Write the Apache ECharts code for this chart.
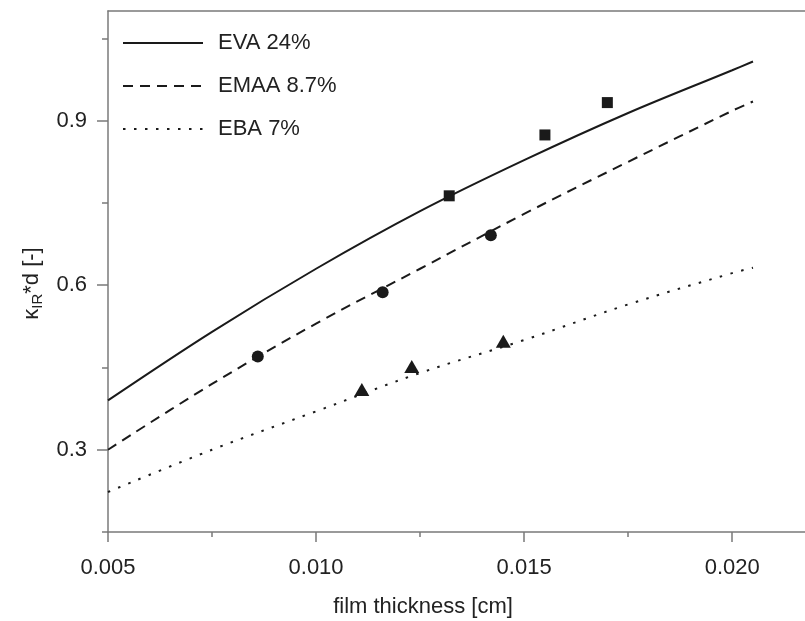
<!DOCTYPE html>
<html>
<head>
<meta charset="utf-8">
<script src="https://cdn.jsdelivr.net/npm/echarts@6/dist/echarts.min.js"></script>
<style>
html,body{margin:0;padding:0;background:#fff;}
#chart{width:805px;height:621px;}
</style>
</head>
<body>
<div id="chart"></div>
<script>
// ---- data ----
const curveX = [0.005, 0.0075, 0.010, 0.0125, 0.015, 0.0175, 0.020, 0.0205];
const evaCurve  = [0.390, 0.515, 0.630, 0.735, 0.828, 0.914, 0.992, 1.008];
const emaaCurve = [0.300, 0.420, 0.530, 0.630, 0.730, 0.825, 0.918, 0.935];
const ebaCurve  = [0.223, 0.300, 0.370, 0.440, 0.500, 0.565, 0.622, 0.632];

const evaPointsX  = [0.0132, 0.0155, 0.0170];
const evaPointsY  = [0.763, 0.874, 0.933];
const emaaPointsX = [0.0086, 0.0116, 0.0142];
const emaaPointsY = [0.470, 0.587, 0.691];
const ebaPointsX  = [0.0111, 0.0123, 0.0145];
const ebaPointsY  = [0.410, 0.452, 0.498];

const seriesNames = ['EVA 24%', 'EMAA 8.7%', 'EBA 7%'];
const xTicks = [0.005, 0.010, 0.015, 0.020];
const xMinorTicks = [0.0075, 0.0125, 0.0175];
const yTicks = [0.3, 0.6, 0.9];
const yMinorTicks = [0.15, 0.45, 0.75, 1.05];
const xTitle = 'film thickness [cm]';

// ---- build ----
const zip = (xs, ys) => xs.map((x, i) => [x, ys[i]]);
const FONT = "'Liberation Sans', Arial, Helvetica, sans-serif";
const AXIS_COLOR = '#7a7a7a';
const INK = '#1a1a1a';
const TXT = '#222';
const X_MIN = 0.005, X_MAX = 0.02175, Y_MIN = 0.15, Y_MAX = 1.1;

const chart = echarts.init(document.getElementById('chart'), null, {renderer: 'canvas'});

const lineTypes = ['solid', [10, 7], [2.5, 8.5]];
const curves = [evaCurve, emaaCurve, ebaCurve];
const points = [[evaPointsX, evaPointsY, 'rect', [11, 11]],
                [emaaPointsX, emaaPointsY, 'circle', 12],
                [ebaPointsX, ebaPointsY, 'triangle', [15, 13]]];

const series = [];
curves.forEach((c, i) => {
  series.push({
    name: seriesNames[i], type: 'line', xAxisIndex: 0, yAxisIndex: 0,
    data: zip(curveX, c), smooth: 0.35, symbol: 'none', silent: true,
    lineStyle: {color: INK, width: 2, type: lineTypes[i]},
    itemStyle: {color: INK}, z: 3
  });
});
points.forEach((p, i) => {
  series.push({
    name: seriesNames[i] + ' data', type: 'scatter', xAxisIndex: 0, yAxisIndex: 0,
    data: zip(p[0], p[1]), symbol: p[2], symbolSize: p[3],
    itemStyle: {color: INK, opacity: 1}, z: 4
  });
});

const baseAxisLine = {show: true, onZero: false, lineStyle: {color: AXIS_COLOR, width: 1.5}};

chart.setOption({
  animation: false,
  backgroundColor: '#fff',
  textStyle: {fontFamily: FONT},
  grid: {left: 108, right: 0, top: 11, bottom: 89, containLabel: false, outerBoundsMode: 'none'},
  legend: {
    data: seriesNames, orient: 'vertical', left: 122, top: 32, padding: 0,
    itemWidth: 80, itemHeight: 20, itemGap: 21,
    itemStyle: {color: 'rgba(0,0,0,0)', borderColor: 'rgba(0,0,0,0)', borderWidth: 0},
    textStyle: {fontSize: 22, color: TXT, fontFamily: FONT, padding: [0, 0, 0, 10]},
    selectedMode: false
  },
  xAxis: [{
    type: 'value', position: 'bottom', min: X_MIN, max: X_MAX,
    axisLine: baseAxisLine,
    axisTick: {show: true, length: 10, customValues: xTicks, lineStyle: {color: AXIS_COLOR, width: 1.5}},
    axisLabel: {show: true, customValues: xTicks, margin: 25, fontSize: 22, color: TXT, fontFamily: FONT,
      formatter: v => v.toFixed(3)},
    splitLine: {show: false},
    name: xTitle, nameLocation: 'middle', nameGap: 64,
    nameTextStyle: {fontSize: 22, color: TXT, fontFamily: FONT, padding: [0, 67, 0, 0]}
  }, {
    type: 'value', position: 'bottom', min: X_MIN, max: X_MAX,
    axisLine: {show: false, onZero: false},
    axisTick: {show: true, length: 5, customValues: xMinorTicks, lineStyle: {color: AXIS_COLOR, width: 1.5}},
    axisLabel: {show: false}, splitLine: {show: false}
  }, {
    type: 'value', position: 'top', min: X_MIN, max: X_MAX,
    axisLine: baseAxisLine,
    axisTick: {show: false}, axisLabel: {show: false}, splitLine: {show: false}
  }],
  yAxis: [{
    type: 'value', position: 'left', min: Y_MIN, max: Y_MAX,
    axisLine: baseAxisLine,
    axisTick: {show: true, length: 11, customValues: yTicks, lineStyle: {color: AXIS_COLOR, width: 1.5}},
    axisLabel: {show: true, customValues: yTicks, margin: 21, fontSize: 22, color: TXT, fontFamily: FONT,
      formatter: v => v.toFixed(1)},
    splitLine: {show: false},
    name: '{a|κ}{s|IR}{a|*d [-]}', nameLocation: 'middle', nameGap: 62,
    nameTextStyle: {color: TXT, fontFamily: FONT, padding: [0, 24, 0, 0],
      rich: {a: {fontSize: 22, color: TXT, fontFamily: FONT},
             s: {fontSize: 15, color: TXT, fontFamily: FONT, padding: [12, 0, 0, 0]}}}
  }, {
    type: 'value', position: 'left', min: Y_MIN, max: Y_MAX,
    axisLine: {show: false, onZero: false},
    axisTick: {show: true, length: 6, customValues: yMinorTicks, lineStyle: {color: AXIS_COLOR, width: 1.5}},
    axisLabel: {show: false}, splitLine: {show: false}
  }],
  series: series
});
</script>
</body>
</html>
